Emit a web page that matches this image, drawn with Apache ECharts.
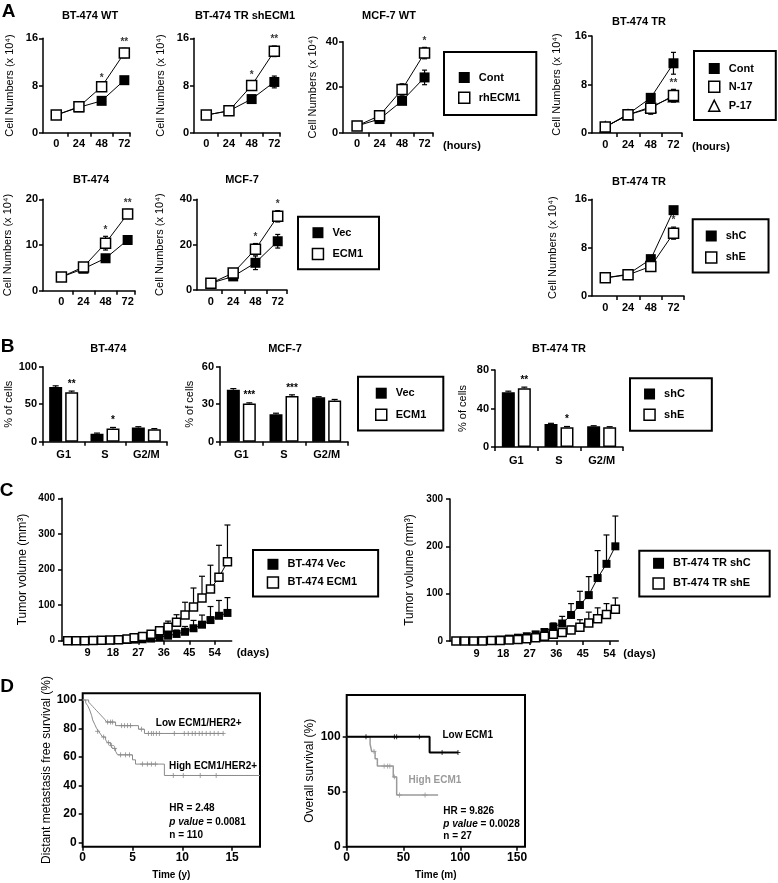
<!DOCTYPE html>
<html>
<head>
<meta charset="utf-8">
<title>ECM1 growth, cell cycle, tumor volume and survival</title>
<script src="https://cdn.jsdelivr.net/npm/echarts@6/dist/echarts.min.js"></script>
<style>
  html, body { margin: 0; padding: 0; background: #fff; }
  #chart { width: 778px; height: 883px; }
</style>
</head>
<body>
<div id="chart"></div>
<script>
const FONT = '"Liberation Sans", Arial, sans-serif';
const BLACK = '#000';
const GREY = '#8a8a8a';

// ---- A: cell growth (x 10^4 cells) ----
const hours = [0, 24, 48, 72];

const wtCont = [3, 4.3, 5.4, 8.9];
const wtContErr = [0.2, 0.3, 0.6, 0.5];
const wtRh = [3, 4.4, 7.8, 13.5];
const wtRhErr = [0.2, 0.3, 0.4, 0.8];
const wtStars = ['', '', '*', '**'];

const shCont = [3, 3.7, 5.7, 8.6];
const shContErr = [0.2, 0.2, 0.4, 1.0];
const shRh = [3, 3.7, 8.0, 13.8];
const shRhErr = [0.2, 0.2, 0.6, 0.9];
const shStars = ['', '', '*', '**'];

const mcfWtCont = [3, 6, 14, 24.3];
const mcfWtContErr = [0.5, 0.6, 1.5, 3.2];
const mcfWtRh = [3, 7.5, 19, 35];
const mcfWtRhErr = [0.5, 0.8, 2.5, 2.5];
const mcfWtStars = ['', '', '', '*'];

const trCont = [1, 3.1, 5.8, 11.5];
const trContErr = [0.2, 0.3, 0.7, 1.8];
const trN17 = [1, 3, 4.1, 6.2];
const trN17Err = [0.2, 0.3, 1.0, 1.0];
const trP17 = [1, 3, 4.3, 6.0];
const trP17Err = [0.2, 0.3, 0.8, 0.9];
const trStars = ['', '', '', '**'];

const btVec = [3, 4.8, 7.1, 11.1];
const btVecErr = [0.3, 0.4, 0.8, 0.8];
const btEcm = [3, 5.2, 10.4, 16.8];
const btEcmErr = [0.3, 0.6, 1.5, 1.0];
const btStars = ['', '', '*', '**'];

const mcfVec = [3, 6, 12, 21.5];
const mcfVecErr = [0.5, 0.6, 3, 3];
const mcfEcm = [3, 7.5, 18, 32.5];
const mcfEcmErr = [0.5, 0.8, 2.5, 2.5];
const mcfStars = ['', '', '*', '*'];

const trShC = [3, 3.6, 6.1, 14.2];
const trShCErr = [0.2, 0.3, 0.6, 0.5];
const trShE = [3, 3.5, 4.9, 10.4];
const trShEErr = [0.2, 0.3, 0.5, 1.0];
const trShStars = ['', '', '', '*'];

// ---- B: cell cycle (% of cells) ----
const phases = ['G1', 'S', 'G2/M'];
const cyBtVec = [73, 10.5, 19];
const cyBtVecErr = [1.5, 1, 1];
const cyBtEcm = [66, 17.5, 16.5];
const cyBtEcmErr = [1.5, 1.5, 1];
const cyBtStars = ['**', '*', ''];
const cyMcfVec = [41.5, 22, 35.5];
const cyMcfVecErr = [1, 0.8, 0.5];
const cyMcfEcm = [30.5, 36.5, 33];
const cyMcfEcmErr = [0.6, 1, 0.8];
const cyMcfStars = ['***', '***', ''];
const cyTrShC = [57, 24, 21.5];
const cyTrShCErr = [1, 0.6, 0.6];
const cyTrShE = [61, 20.5, 20.5];
const cyTrShEErr = [1.2, 0.8, 0.6];
const cyTrStars = ['**', '*', ''];

// ---- C: tumor volume (mm3), upper SD only ----
const dayTicks = [9, 18, 27, 36, 45, 54];
const daysBt = [2, 5, 8, 11, 14, 17, 20, 23, 25.5, 28.5, 31.5, 34.5, 37.5, 40.5, 43.5, 46.5, 49.5, 52.5, 55.5, 58.5];
const volBtVec = [0, 0, 0, 0, 0.5, 1, 1.5, 2, 3, 4, 6, 10, 14, 19, 25, 35, 45, 58, 70, 78];
const volBtVecErr = [0, 0, 0, 0, 0, 0, 0, 0, 0, 1, 2, 3, 8, 11, 15, 22, 27, 38, 43, 43];
const volBtEcm = [0, 0, 0, 0.5, 1, 2, 3, 5, 8, 12, 18, 28, 38, 52, 72, 95, 120, 145, 178, 222];
const volBtEcmErr = [0, 0, 0, 0, 0, 0, 0, 1, 2, 3, 6, 8, 17, 21, 36, 53, 61, 67, 90, 103];
const daysTr = [2, 5, 8, 11, 14, 17, 20, 23, 26, 29, 32, 35, 38, 41, 44, 47, 50, 53, 56];
const volTrShC = [0, 0, 0, 1, 2, 3, 5, 7, 10, 14, 19, 30, 37, 55, 76, 97, 133, 163, 200];
const volTrShCErr = [0, 0, 0, 0, 0, 1, 1, 2, 2, 3, 4, 8, 15, 24, 29, 39, 58, 61, 64];
const volTrShE = [0, 0, 0, 0, 1, 1, 2, 3, 5, 7, 10, 14, 18, 23, 29, 38, 47, 56, 67];
const volTrShEErr = [0, 0, 0, 0, 0, 0, 0, 1, 1, 2, 3, 4, 6, 8, 16, 23, 23, 23, 24];

// ---- D: Kaplan-Meier [time, survival %] ----
const dmfsLow = [[0, 100], [0.6, 98.5], [0.8, 97], [1.0, 95.5], [1.2, 94], [1.4, 92.5], [1.6, 91], [1.8, 89.5], [2.0, 88], [2.2, 86.5], [2.4, 84.5], [3.3, 82], [5.6, 79.5], [6.2, 76.5], [14.1, 76.5]];
const dmfsLowCens = [[2.5, 84.5], [2.8, 84.5], [3.0, 84.5], [3.9, 82], [4.2, 82], [4.5, 82], [4.8, 82], [5.9, 79.5], [6.6, 76.5], [6.9, 76.5], [7.1, 76.5], [7.4, 76.5], [7.7, 76.5], [9.2, 76.5], [10.2, 76.5], [10.6, 76.5], [11.0, 76.5], [11.3, 76.5], [11.7, 76.5], [12.0, 76.5], [12.4, 76.5], [12.8, 76.5], [13.2, 76.5], [13.6, 76.5], [14.1, 76.5]];
const dmfsHigh = [[0, 100], [0.3, 98], [0.5, 96], [0.7, 93], [0.9, 89], [1.0, 86], [1.2, 83], [1.4, 80], [1.6, 78], [1.8, 76], [2.0, 74], [2.3, 72], [2.5, 70], [2.8, 68], [3.0, 66], [3.3, 64], [3.5, 61.5], [5.0, 58], [5.3, 55], [8.2, 47], [17.8, 47]];
const dmfsHighCens = [[1.5, 78], [2.1, 74], [2.6, 70], [2.9, 68], [3.2, 66], [3.8, 61.5], [4.3, 61.5], [4.7, 61.5], [6.0, 55], [6.5, 55], [6.9, 55], [7.3, 55], [9.1, 47], [10.1, 47], [11.8, 47], [13.4, 47]];
const osLow = [[0, 100], [73, 85.7], [98, 85.7]];
const osLowCens = [[17, 100], [42, 100], [44, 100], [64, 100], [84, 85.7], [98, 85.7]];
const osHigh = [[0, 100], [20.6, 93.3], [22, 86.7], [25, 80], [27, 73.3], [41, 63.5], [44, 47], [80.5, 47]];
const osHighCens = [[24, 86.7], [33, 73.3], [36, 73.3], [38, 73.3], [42, 63.5], [46.5, 47], [69, 47]];

const grids = [], xAxes = [], yAxes = [], series = [], legends = [], graphics = [];
const BAR_W = 13, BAR_GAP = 3;

const tickFont = (size) => ({ color: BLACK, fontFamily: FONT, fontWeight: 'bold', fontSize: size });
const axisLine = (show) => ({ show, onZero: false, lineStyle: { color: BLACK, width: 1.5 } });
const tickStyle = { color: BLACK, width: 1.5 };

function addGrid(g, box) {
  grids.push({ left: g.left, top: g.top, width: g.width, height: g.height, outerBoundsMode: 'none',
    show: !!box, borderColor: BLACK, borderWidth: 2, backgroundColor: 'transparent' });
  return grids.length - 1;
}

function errSeries(gi, xs, ys, errs, cap, upperOnly, dx) {
  return {
    type: 'custom', xAxisIndex: gi, yAxisIndex: gi, silent: true, z: 2,
    data: xs.map((x, k) => [x, upperOnly ? ys[k] : ys[k] - errs[k], ys[k] + errs[k]]),
    encode: { x: 0, y: [1, 2] },
    renderItem: (params, api) => {
      const hi = api.coord([api.value(0), api.value(2)]);
      const lo = api.coord([api.value(0), api.value(1)]);
      const off = dx || 0;
      const st = { stroke: BLACK, lineWidth: 1.2, fill: null };
      const kids = [
        { type: 'line', shape: { x1: hi[0] + off, y1: hi[1], x2: lo[0] + off, y2: lo[1] }, style: st },
        { type: 'line', shape: { x1: hi[0] + off - cap, y1: hi[1], x2: hi[0] + off + cap, y2: hi[1] }, style: st }
      ];
      if (!upperOnly) {
        kids.push({ type: 'line', shape: { x1: lo[0] + off - cap, y1: lo[1], x2: lo[0] + off + cap, y2: lo[1] }, style: st });
      }
      return { type: 'group', children: kids };
    }
  };
}

function markSeries(gi, name, xs, ys, open, symbol, size) {
  return {
    name, type: 'line', xAxisIndex: gi, yAxisIndex: gi,
    data: xs.map((x, k) => [x, ys[k]]),
    symbol: symbol || 'rect', symbolSize: size || 10, showAllSymbol: true,
    lineStyle: { color: BLACK, width: 1 },
    itemStyle: { color: open ? '#fff' : BLACK, borderColor: BLACK, borderWidth: open ? 1.5 : 0 },
    z: open ? 4 : 3
  };
}

function starSeries(gi, xs, ys, errs, stars) {
  return {
    type: 'scatter', xAxisIndex: gi, yAxisIndex: gi, silent: true, z: 5,
    symbol: 'circle', symbolSize: 1, itemStyle: { color: 'rgba(0,0,0,0)' },
    data: xs.map((x, k) => ({
      value: [x, ys[k] + errs[k]],
      label: { show: !!stars[k], formatter: stars[k] || ' ', position: 'top', distance: 1,
        color: BLACK, fontFamily: FONT, fontWeight: 'bold', fontSize: 10 }
    }))
  };
}

function growthPanel(o) {
  const gi = addGrid(o);
  xAxes.push({
    gridIndex: gi, type: 'value', min: o.xmin, max: o.xmax,
    name: o.xname || '', nameLocation: 'end', nameGap: 10,
    nameTextStyle: Object.assign(tickFont(11), { verticalAlign: 'top', padding: [8, 0, 0, 0] }),
    axisLine: axisLine(true),
    axisTick: { show: true, length: 4, customValues: o.xticks, lineStyle: tickStyle },
    axisLabel: Object.assign({ customValues: hours, margin: 6 }, tickFont(11)),
    splitLine: { show: false }
  });
  yAxes.push({
    gridIndex: gi, type: 'value', min: 0, max: o.ymax, interval: o.ymax / 2,
    name: 'Cell Numbers (x 10⁴)', nameLocation: 'middle', nameGap: o.nameGap,
    nameTextStyle: { color: BLACK, fontFamily: FONT, fontSize: 11 },
    axisLine: axisLine(true),
    axisTick: { show: true, length: 4, lineStyle: tickStyle },
    axisLabel: Object.assign({ margin: 5 }, tickFont(11)),
    splitLine: { show: false }
  });
  o.groups.forEach(g => series.push(errSeries(gi, hours, g.values, g.err, 2.5, false)));
  o.groups.forEach(g => series.push(markSeries(gi, g.name, hours, g.values, g.open, g.symbol, g.size)));
  const top = o.groups[o.starGroup];
  series.push(starSeries(gi, hours, top.values, top.err, o.stars));
}

function barSeries(gi, name, ys, open, stars) {
  return {
    name, type: 'bar', xAxisIndex: gi, yAxisIndex: gi, z: 3,
    barWidth: BAR_W, barGap: (BAR_GAP / BAR_W * 100) + '%',
    itemStyle: { color: open ? '#fff' : BLACK, borderColor: BLACK, borderWidth: 1.5 },
    data: ys.map((v, k) => ({
      value: v,
      label: { show: !!(stars && stars[k]), formatter: (stars && stars[k]) || ' ', position: 'top', distance: 3,
        color: BLACK, fontFamily: FONT, fontWeight: 'bold', fontSize: 10 }
    }))
  };
}

function cyclePanel(o) {
  const gi = addGrid(o);
  xAxes.push({
    gridIndex: gi, type: 'category', data: phases,
    axisLine: axisLine(true),
    axisTick: { show: true, length: 4, lineStyle: tickStyle },
    axisLabel: Object.assign({ margin: 8 }, tickFont(11)),
    splitLine: { show: false }
  });
  yAxes.push({
    gridIndex: gi, type: 'value', min: 0, max: o.ymax, interval: o.ymax / 2,
    name: '% of cells', nameLocation: 'middle', nameGap: o.nameGap,
    nameTextStyle: { color: BLACK, fontFamily: FONT, fontSize: 11 },
    axisLine: axisLine(true),
    axisTick: { show: true, length: 4, lineStyle: tickStyle },
    axisLabel: Object.assign({ margin: 6 }, tickFont(11)),
    splitLine: { show: false }
  });
  const idx = phases.map((p, k) => k);
  const dx = (BAR_W + BAR_GAP) / 2;
  series.push(barSeries(gi, o.names[0], o.a, false));
  series.push(barSeries(gi, o.names[1], o.b, true, o.stars));
  series.push(errSeries(gi, idx, o.a, o.aErr, 3, true, -dx));
  series.push(errSeries(gi, idx, o.b, o.bErr, 3, true, dx));
}

function volumePanel(o) {
  const gi = addGrid(o);
  xAxes.push({
    gridIndex: gi, type: 'value', min: 0, max: o.xmax,
    name: '(days)', nameLocation: 'end', nameGap: 5,
    nameTextStyle: Object.assign(tickFont(11), { verticalAlign: 'top', padding: [7, 0, 0, 0] }),
    axisLine: axisLine(true),
    axisTick: { show: true, length: 4, customValues: dayTicks, lineStyle: tickStyle },
    axisLabel: Object.assign({ customValues: dayTicks, margin: 7 }, tickFont(11)),
    splitLine: { show: false }
  });
  yAxes.push({
    gridIndex: gi, type: 'value', min: 0, max: o.ymax, interval: 100,
    name: 'Tumor volume (mm³)', nameLocation: 'middle', nameGap: o.nameGap,
    nameTextStyle: { color: BLACK, fontFamily: FONT, fontSize: 12 },
    axisLine: axisLine(true),
    axisTick: { show: true, length: 4, lineStyle: tickStyle },
    axisLabel: Object.assign({ margin: 7 }, tickFont(10)),
    splitLine: { show: false }
  });
  o.groups.forEach(g => series.push(errSeries(gi, o.days, g.values, g.err, 3, true)));
  o.groups.forEach(g => series.push(markSeries(gi, g.name, o.days, g.values, g.open, 'rect', 8)));
}

function kmPanel(o) {
  const gi = addGrid(o, true);
  xAxes.push({
    gridIndex: gi, type: 'value', min: 0, max: o.xmax,
    name: o.xname, nameLocation: 'middle', nameGap: 24,
    nameTextStyle: tickFont(10),
    axisLine: axisLine(false),
    axisTick: { show: true, length: 4, customValues: o.xlabels, lineStyle: tickStyle },
    axisLabel: Object.assign({ customValues: o.xlabels, margin: 5 }, tickFont(12)),
    splitLine: { show: false }
  });
  yAxes.push({
    gridIndex: gi, type: 'value', min: o.ymin, max: o.ymax,
    name: o.yname, nameLocation: 'middle', nameGap: o.nameGap,
    nameTextStyle: { color: BLACK, fontFamily: FONT, fontSize: 12 },
    axisLine: axisLine(false),
    axisTick: { show: true, length: 4, customValues: o.ylabels, lineStyle: tickStyle },
    axisLabel: Object.assign({ customValues: o.ylabels, margin: 6 }, tickFont(12)),
    splitLine: { show: false }
  });
  o.curves.forEach(c => {
    series.push({ name: c.name, type: 'line', xAxisIndex: gi, yAxisIndex: gi, data: c.steps, step: 'end',
      symbol: 'none', lineStyle: { color: c.color, width: c.width }, z: 3 });
    series.push({ type: 'scatter', xAxisIndex: gi, yAxisIndex: gi, data: c.cens, silent: true, z: 4,
      symbol: 'path://M0,5L10,5M5,0L5,10', symbolSize: 5,
      itemStyle: { color: c.color, borderColor: c.color, borderWidth: 1 } });
  });
}

function legendBox(left, top, padding, gap, items) {
  legends.push({
    orient: 'vertical', left, top, padding, itemGap: gap, itemWidth: 11, itemHeight: 11,
    borderColor: BLACK, borderWidth: 2, selectedMode: false,
    textStyle: { color: BLACK, fontFamily: FONT, fontWeight: 'bold', fontSize: 11, padding: [0, 0, 0, 4] },
    data: items.map(it => ({
      name: it.name, icon: it.icon || 'rect',
      itemStyle: { color: it.open ? '#fff' : BLACK, borderColor: BLACK, borderWidth: it.open ? 1.5 : 0 }
    }))
  });
}

function txt(x, y, text, size, extra) {
  graphics.push({
    type: 'text', x, y, silent: true,
    style: Object.assign({ text, fill: BLACK, fontFamily: FONT, fontWeight: 'bold', fontSize: size,
      align: 'center', verticalAlign: 'middle' }, extra || {})
  });
}

// ---- A ----
growthPanel({ left: 43, top: 38.3, width: 87, height: 94.4, xmin: -14, xmax: 78, xticks: [12, 36, 60, 78], ymax: 16, nameGap: 28,
  groups: [{ name: 'Cont', values: wtCont, err: wtContErr }, { name: 'rhECM1', values: wtRh, err: wtRhErr, open: true }],
  starGroup: 1, stars: wtStars });
growthPanel({ left: 194, top: 38.3, width: 86, height: 94.4, xmin: -13, xmax: 78, xticks: [12, 36, 60, 78], ymax: 16, nameGap: 28,
  groups: [{ name: 'Cont', values: shCont, err: shContErr }, { name: 'rhECM1', values: shRh, err: shRhErr, open: true }],
  starGroup: 1, stars: shStars });
growthPanel({ left: 343, top: 41.7, width: 90, height: 91, xmin: -15, xmax: 81, xticks: [12, 36, 60, 81], ymax: 40, nameGap: 25, xname: '(hours)',
  groups: [{ name: 'Cont', values: mcfWtCont, err: mcfWtContErr }, { name: 'rhECM1', values: mcfWtRh, err: mcfWtRhErr, open: true }],
  starGroup: 1, stars: mcfWtStars });
growthPanel({ left: 592, top: 36, width: 90, height: 97, xmin: -14, xmax: 81, xticks: [12, 36, 60, 81], ymax: 16, nameGap: 30, xname: '(hours)',
  groups: [{ name: 'Cont', values: trCont, err: trContErr },
    { name: 'P-17', values: trP17, err: trP17Err, open: true, symbol: 'triangle', size: 10 },
    { name: 'N-17', values: trN17, err: trN17Err, open: true }],
  starGroup: 2, stars: trStars });
growthPanel({ left: 43, top: 199.3, width: 92, height: 91.4, xmin: -20, xmax: 80, xticks: [12, 36, 60, 80], ymax: 20, nameGap: 30,
  groups: [{ name: 'Vec', values: btVec, err: btVecErr }, { name: 'ECM1', values: btEcm, err: btEcmErr, open: true }],
  starGroup: 1, stars: btStars });
growthPanel({ left: 197, top: 199.3, width: 90, height: 90.7, xmin: -15, xmax: 82, xticks: [12, 36, 60, 82], ymax: 40, nameGap: 32,
  groups: [{ name: 'Vec', values: mcfVec, err: mcfVecErr }, { name: 'ECM1', values: mcfEcm, err: mcfEcmErr, open: true }],
  starGroup: 1, stars: mcfStars });
growthPanel({ left: 592, top: 199.3, width: 92, height: 96.7, xmin: -14, xmax: 83, xticks: [12, 36, 60, 83], ymax: 16, nameGap: 34,
  groups: [{ name: 'shC', values: trShC, err: trShCErr }, { name: 'shE', values: trShE, err: trShEErr, open: true }],
  starGroup: 1, stars: trShStars });

legendBox(444, 52, [20, 16, 11, 14], 8.5, [{ name: 'Cont' }, { name: 'rhECM1', open: true }]);
legendBox(694, 51, [12, 22, 8, 14], 6.5, [{ name: 'Cont' }, { name: 'N-17', open: true }, { name: 'P-17', open: true, icon: 'triangle' }]);
legendBox(298, 216.7, [10.5, 16, 9, 13.7], 9.6, [{ name: 'Vec' }, { name: 'ECM1', open: true }]);
legendBox(692.7, 219.3, [11.2, 22, 8.8, 12.3], 9.7, [{ name: 'shC' }, { name: 'shE', open: true }]);

// ---- B ----
cyclePanel({ left: 43, top: 366.7, width: 124, height: 75, ymax: 100, nameGap: 26, names: ['Vec', 'ECM1'],
  a: cyBtVec, aErr: cyBtVecErr, b: cyBtEcm, bErr: cyBtEcmErr, stars: cyBtStars });
cyclePanel({ left: 220, top: 366.7, width: 128, height: 75, ymax: 60, nameGap: 25, names: ['Vec', 'ECM1'],
  a: cyMcfVec, aErr: cyMcfVecErr, b: cyMcfEcm, bErr: cyMcfEcmErr, stars: cyMcfStars });
cyclePanel({ left: 495, top: 370, width: 128, height: 77, ymax: 80, nameGap: 27, names: ['shC', 'shE'],
  a: cyTrShC, aErr: cyTrShCErr, b: cyTrShE, bErr: cyTrShEErr, stars: cyTrStars });

legendBox(358, 376.7, [11, 17, 9.5, 17], 9.7, [{ name: 'Vec' }, { name: 'ECM1', open: true }]);
legendBox(630, 378.3, [10.2, 27, 9.8, 13.3], 9, [{ name: 'shC' }, { name: 'shE', open: true }]);

// ---- C ----
volumePanel({ left: 62, top: 498.3, width: 169.7, height: 142.4, xmax: 60, ymax: 400, nameGap: 33, days: daysBt,
  groups: [{ name: 'BT-474 Vec', values: volBtVec, err: volBtVecErr }, { name: 'BT-474 ECM1', values: volBtEcm, err: volBtEcmErr, open: true }] });
volumePanel({ left: 450, top: 499, width: 168.3, height: 142, xmax: 57, ymax: 300, nameGap: 34, days: daysTr,
  groups: [{ name: 'BT-474 TR shC', values: volTrShC, err: volTrShCErr }, { name: 'BT-474 TR shE', values: volTrShE, err: volTrShEErr, open: true }] });

legendBox(253, 550, [8.8, 21, 7.8, 13.7], 6.4, [{ name: 'BT-474 Vec' }, { name: 'BT-474 ECM1', open: true }]);
legendBox(639.3, 550.7, [7.1, 19, 6.8, 13], 8.4, [{ name: 'BT-474 TR shC' }, { name: 'BT-474 TR shE', open: true }]);

// ---- D ----
kmPanel({ left: 82.7, top: 693.3, width: 177.3, height: 153.4, xmax: 17.8, ymin: -3, ymax: 104.7,
  xlabels: [0, 5, 10, 15], ylabels: [0, 20, 40, 60, 80, 100], nameGap: 30,
  xname: 'Time (y)', yname: 'Distant metastasis free survival (%)',
  curves: [{ name: 'Low ECM1/HER2+', steps: dmfsLow, cens: dmfsLowCens, color: GREY, width: 1 },
    { name: 'High ECM1/HER2+', steps: dmfsHigh, cens: dmfsHighCens, color: GREY, width: 1 }] });
kmPanel({ left: 346.7, top: 695, width: 178.3, height: 151.7, xmax: 157, ymin: 0, ymax: 138,
  xlabels: [0, 50, 100, 150], ylabels: [0, 50, 100], nameGap: 31,
  xname: 'Time (m)', yname: 'Overall survival (%)',
  curves: [{ name: 'High ECM1', steps: osHigh, cens: osHighCens, color: '#9a9a9a', width: 1.5 },
    { name: 'Low ECM1', steps: osLow, cens: osLowCens, color: BLACK, width: 2 }] });

// ---- text ----
txt(8.5, 12, 'A', 19);
txt(7.5, 347, 'B', 19);
txt(6.5, 491, 'C', 19);
txt(7, 687, 'D', 19);

txt(90, 16, 'BT-474 WT', 11);
txt(245, 16, 'BT-474 TR shECM1', 11);
txt(389, 16, 'MCF-7 WT', 11);
txt(639, 21.5, 'BT-474 TR', 11);
txt(91, 180, 'BT-474', 11);
txt(242, 180, 'MCF-7', 11);
txt(639, 181.7, 'BT-474 TR', 11);
txt(108.3, 349.3, 'BT-474', 11);
txt(285, 349.3, 'MCF-7', 11);
txt(559, 349.3, 'BT-474 TR', 11);

txt(198.7, 723.3, 'Low ECM1/HER2+', 10);
txt(213, 766, 'High ECM1/HER2+', 10);
const rich = { i: { fontStyle: 'italic', fontWeight: 'bold', fontSize: 10, fontFamily: FONT, fill: BLACK } };
txt(169.3, 808.3, 'HR = 2.48', 10, { align: 'left' });
txt(169.3, 822, '{i|p value} = 0.0081', 10, { align: 'left', rich });
txt(169.3, 835, 'n = 110', 10, { align: 'left' });
txt(467.7, 735, 'Low ECM1', 10);
txt(435, 780.7, 'High ECM1', 10, { fill: '#9a9a9a' });
txt(443.3, 811.7, 'HR = 9.826', 10, { align: 'left' });
txt(443.3, 824, '{i|p value} = 0.0028', 10, { align: 'left', rich });
txt(443.3, 836, 'n = 27', 10, { align: 'left' });

const chart = echarts.init(document.getElementById('chart'));
chart.setOption({
  animation: false,
  backgroundColor: '#fff',
  grid: grids,
  xAxis: xAxes,
  yAxis: yAxes,
  legend: legends,
  series: series,
  graphic: graphics
});
</script>
</body>
</html>
